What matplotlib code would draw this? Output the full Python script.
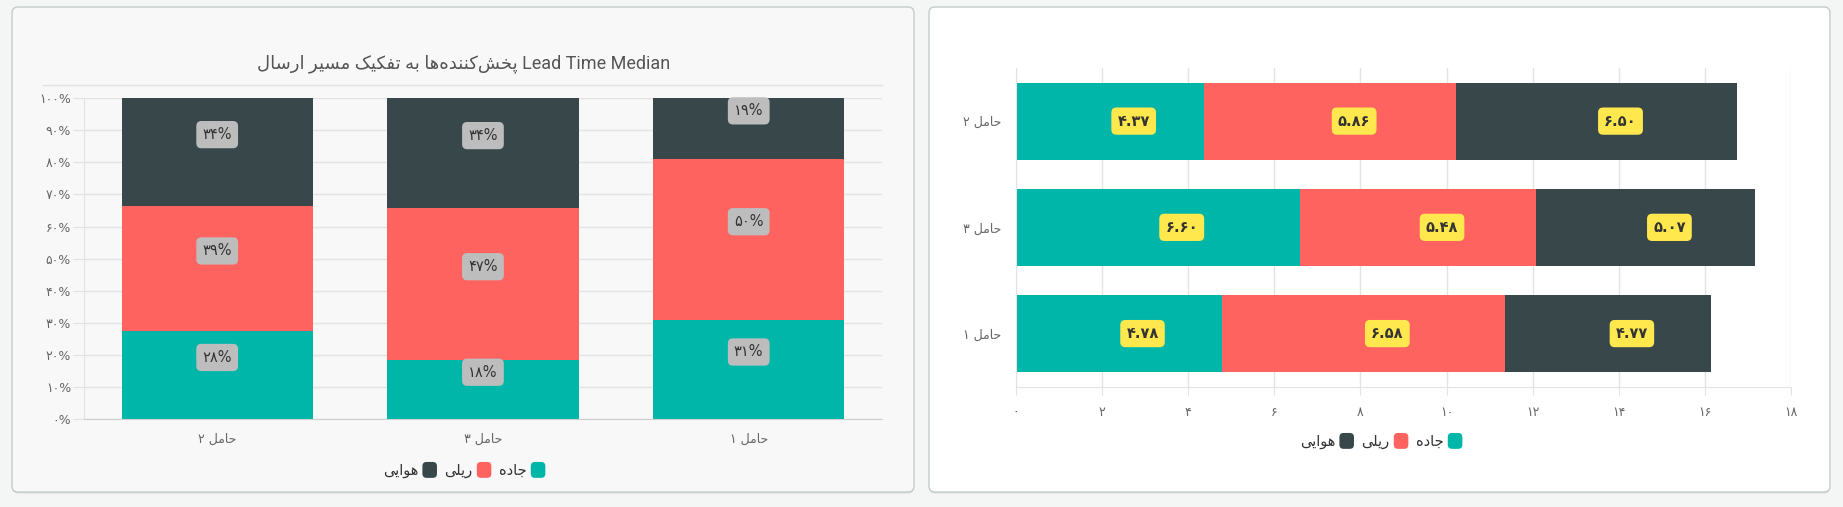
import matplotlib
matplotlib.use("Agg")
import matplotlib.pyplot as plt
from matplotlib.patches import FancyBboxPatch, Patch
from matplotlib.legend_handler import HandlerPatch
from matplotlib.lines import Line2D
import numpy as np

# ---------------- data ----------------
title_text = "Lead Time Median پخش‌کننده‌ها به تفکیک مسیر ارسال"
modes = ["جاده", "ریلی", "هوایی"]          # road, rail, air
colors = ["#00B6A9", "#FF6360", "#37474A"]

carriers_share = ["حامل ۲", "حامل ۳", "حامل ۱"]
road_share = [27.6, 18.4, 31.0]
rail_share = [38.7, 47.3, 50.1]
air_share = [33.7, 34.3, 18.9]

carriers_days = ["حامل ۲", "حامل ۳", "حامل ۱"]
road_days = [4.37, 6.60, 4.78]
rail_days = [5.86, 5.48, 6.58]
air_days = [6.50, 5.07, 4.77]

share_ticks = list(range(0, 101, 10))
day_ticks = list(range(0, 19, 2))

# ---------------- Persian text helpers ----------------
FORMS = {
    'ا': ('\uFE8D', '\uFE8E', None, None),
    'ب': ('\uFE8F', '\uFE90', '\uFE91', '\uFE92'),
    'پ': ('\uFB56', '\uFB57', '\uFB58', '\uFB59'),
    'ت': ('\uFE95', '\uFE96', '\uFE97', '\uFE98'),
    'ج': ('\uFE9D', '\uFE9E', '\uFE9F', '\uFEA0'),
    'ح': ('\uFEA1', '\uFEA2', '\uFEA3', '\uFEA4'),
    'خ': ('\uFEA5', '\uFEA6', '\uFEA7', '\uFEA8'),
    'د': ('\uFEA9', '\uFEAA', None, None),
    'ر': ('\uFEAD', '\uFEAE', None, None),
    'س': ('\uFEB1', '\uFEB2', '\uFEB3', '\uFEB4'),
    'ش': ('\uFEB5', '\uFEB6', '\uFEB7', '\uFEB8'),
    'ف': ('\uFED1', '\uFED2', '\uFED3', '\uFED4'),
    'ک': ('\uFB8E', '\uFB8F', '\uFB90', '\uFB91'),
    'ل': ('\uFEDD', '\uFEDE', '\uFEDF', '\uFEE0'),
    'م': ('\uFEE1', '\uFEE2', '\uFEE3', '\uFEE4'),
    'ن': ('\uFEE5', '\uFEE6', '\uFEE7', '\uFEE8'),
    'ه': ('\uFEE9', '\uFEEA', '\uFEEB', '\uFEEC'),
    'و': ('\uFEED', '\uFEEE', None, None),
    'ی': ('\uFBFC', '\uFBFD', '\uFBFE', '\uFBFF'),
}


def shape(s):
    out = []
    n = len(s)
    for i, c in enumerate(s):
        if c not in FORMS:
            out.append(c)
            continue
        f = FORMS[c]
        prev = s[i - 1] if i > 0 else ''
        nxt = s[i + 1] if i + 1 < n else ''
        jp = prev in FORMS and FORMS[prev][2] is not None
        jn = f[2] is not None and nxt in FORMS
        if jp and jn:
            out.append(f[3])
        elif jp:
            out.append(f[1])
        elif jn:
            out.append(f[2])
        else:
            out.append(f[0])
    return ''.join(ch for ch in out if ch != '\u200c')


def is_rtl(ch):
    return ('\u0600' <= ch <= '\u06EF') or ('\uFB50' <= ch <= '\uFEFF')


def visual(s, rtl_base=True):
    """Shape Arabic-script letters and reorder runs for display (simple bidi)."""
    s = shape(s)
    t0 = ['R' if is_rtl(c) else ('N' if c == ' ' else 'L') for c in s]
    types = list(t0)
    for i, t in enumerate(t0):
        if t == 'N':
            p = next((t0[j] for j in range(i - 1, -1, -1) if t0[j] != 'N'), None)
            q = next((t0[j] for j in range(i + 1, len(s)) if t0[j] != 'N'), None)
            types[i] = p if (p == q and p is not None) else ('R' if rtl_base else 'L')
    runs = []
    for c, t in zip(s, types):
        if runs and runs[-1][0] == t:
            runs[-1][1].append(c)
        else:
            runs.append([t, [c]])
    pieces = [''.join(reversed(ch)) if t == 'R' else ''.join(ch) for t, ch in runs]
    if rtl_base:
        pieces = pieces[::-1]
    return ''.join(pieces)


FA = str.maketrans('0123456789', '۰۱۲۳۴۵۶۷۸۹')


def fa_num(x):
    return str(x).translate(FA)


# ---------------- figure ----------------
W, H = 1843, 507
DPI = 100
plt.rcParams['font.family'] = ['DejaVu Sans']
fig = plt.figure(figsize=(W / DPI, H / DPI), dpi=DPI, facecolor='#F4F5F5')


def fx(x):
    return x / W


def fy(y):
    return 1 - y / H


def card(x0, y0, x1, y1, fc):
    tr = fig.dpi_scale_trans
    sh = FancyBboxPatch((x0 / DPI, (H - y1 - 1.5) / DPI), (x1 - x0) / DPI, (y1 - y0) / DPI,
                        boxstyle='round,pad=0,rounding_size=0.06', transform=tr,
                        fc='#DADFDF', ec='none', zorder=-3)
    fig.patches.append(sh)
    p = FancyBboxPatch((x0 / DPI, (H - y1) / DPI), (x1 - x0) / DPI, (y1 - y0) / DPI,
                       boxstyle='round,pad=0,rounding_size=0.06', transform=tr,
                       fc=fc, ec='#C4CBCB', lw=1.0, zorder=-2)
    fig.patches.append(p)


card(12, 7, 914, 492, '#F8F8F8')
card(929, 7, 1830, 492, '#FFFFFF')

GRID = '#E3E3E3'
AXC = '#CFCFCF'
TXT = '#666666'

# ---------------- left chart: 100% stacked columns ----------------
axL = fig.add_axes([fx(84.3), fy(419.3), fx(881.6) - fx(84.3), fy(98) - fy(419.3)])
axL.set_facecolor('none')
xs = np.arange(len(carriers_share))
bw = 0.72
bottoms = np.zeros(len(xs))
for vals, col in zip([road_share, rail_share, air_share], colors):
    vals = np.array(vals)
    axL.bar(xs, vals, bw, bottom=bottoms, color=col, zorder=2)
    for xi, b, v in zip(xs, bottoms, vals):
        axL.annotate(fa_num(int(round(v))) + '%', xy=(xi, b + v / 2), xytext=(0, 17.5),
                     textcoords='offset pixels', ha='center', va='center', fontsize=10.5,
                     color='#333333', zorder=4,
                     bbox=dict(boxstyle='round,pad=0.42,rounding_size=0.35', fc='#BDBDBD', ec='none'))
    bottoms = bottoms + vals
axL.set_xlim(-0.5, len(xs) - 0.5)
axL.set_ylim(0, 100)
axL.set_yticks(share_ticks)
axL.set_yticklabels([fa_num(v) + '%' for v in share_ticks])
axL.set_xticks(xs)
axL.set_xticklabels([visual(c) for c in carriers_share])
axL.yaxis.grid(True, color=GRID, lw=1, zorder=0)
axL.set_axisbelow(True)
axL.tick_params(axis='y', length=8, color=GRID, pad=1.5, labelsize=9, labelcolor=TXT)
axL.tick_params(axis='x', length=0, pad=10, labelsize=9, labelcolor=TXT)
for s in ['top', 'right']:
    axL.spines[s].set_visible(False)
axL.spines['left'].set_color(GRID)
axL.spines['bottom'].set_color(AXC)

fig.text(fx(464), fy(64), visual(title_text), ha='center', va='center',
         fontsize=13, color='#555555', family=['Roboto', 'DejaVu Sans'])
fig.add_artist(Line2D([fx(43), fx(882)], [fy(84.6), fy(84.6)], color=GRID, lw=1))

# ---------------- right chart: stacked horizontal bars ----------------
axR = fig.add_axes([fx(1015.5), fy(386.7), fx(1791.3) - fx(1015.5), fy(68) - fy(386.7)])
axR.set_facecolor('none')
ys = np.arange(len(carriers_days))
bh = 0.725
lefts = np.zeros(len(ys))
for vals, col in zip([road_days, rail_days, air_days], colors):
    vals = np.array(vals)
    axR.barh(ys, vals, bh, left=lefts, color=col, zorder=2)
    for yi, l, v in zip(ys, lefts, vals):
        axR.annotate(fa_num(f'{v:.2f}'), xy=(l + v / 2, yi), xytext=(24, 0),
                     textcoords='offset pixels', ha='center', va='center', fontsize=10.5,
                     color='#333333', fontweight='bold', zorder=4,
                     bbox=dict(boxstyle='round,pad=0.42,rounding_size=0.35', fc='#FFE84D', ec='none'))
    lefts = lefts + vals
axR.set_ylim(len(ys) - 0.5, -0.5)
axR.set_xlim(0, 18)
axR.set_xticks(day_ticks)
axR.set_xticklabels([fa_num(v) for v in day_ticks])
axR.set_yticks(ys)
axR.set_yticklabels([visual(c) for c in carriers_days])
axR.xaxis.grid(True, color=GRID, lw=1, zorder=0)
axR.set_axisbelow(True)
axR.tick_params(axis='x', length=6, color=GRID, pad=8, labelsize=9, labelcolor=TXT)
axR.tick_params(axis='y', length=0, pad=10, labelsize=9, labelcolor=TXT)
for s in ['top', 'right']:
    axR.spines[s].set_visible(False)
axR.spines['left'].set_color(GRID)
axR.spines['bottom'].set_color(GRID)


# ---------------- legends ----------------
def make_box(legend, orig_handle, xdescent, ydescent, width, height, fontsize):
    return FancyBboxPatch((-xdescent, -ydescent), width, height,
                          boxstyle='round,pad=0,rounding_size=3',
                          fc=orig_handle.get_facecolor(), ec='none')


handles = [Patch(facecolor=c) for c in colors][::-1]
labels = [visual(m) for m in modes][::-1]
for cx, cy in [(464, 470), (1381, 441)]:
    fig.legend(handles, labels, loc='center', bbox_to_anchor=(fx(cx), fy(cy)), ncol=3,
               frameon=False, markerfirst=False, fontsize=10.5, handlelength=1.0,
               handleheight=1.3, handletextpad=0.3, columnspacing=0.5,
               handler_map={Patch: HandlerPatch(patch_func=make_box)},
               labelcolor='#333333')

fig.savefig('out.png', dpi=DPI, facecolor=fig.get_facecolor())
